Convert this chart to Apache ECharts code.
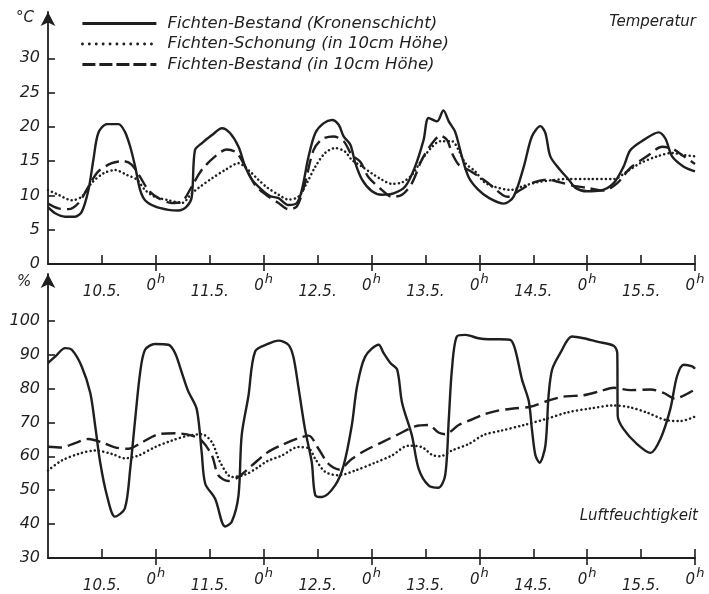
<!DOCTYPE html>
<html>
<head>
<meta charset="utf-8">
<script src="https://cdn.jsdelivr.net/npm/echarts@6/dist/echarts.min.js"></script>
<style>
  html, body { margin: 0; padding: 0; background: #fff; }
  #chart { width: 709px; height: 594px; }
</style>
</head>
<body>
<div id="chart"></div>
<script>
// Hours since 0h on 10 May, paired with readings.

// Series names
const seriesNames = [
  'Fichten-Bestand (Kronenschicht)',
  'Fichten-Schonung (in 10cm Höhe)',
  'Fichten-Bestand (in 10cm Höhe)'
];

// Temperature, °C
const tempCrown = [
  [0,8.3],[1.6,7.4],[3.8,6.9],[6,6.9],[7.5,7.6],[9,10.8],[10.1,15.2],[11.2,19.1],[13.1,20.4],[15.7,20.4],
  [17.1,19.3],[18.3,17.1],[19.4,14.2],[20.5,10.8],[21.6,9.3],[23.8,8.4],[26.8,7.9],[29,7.8],[30.9,8.4],[32,9.8],
  [32.7,16.6],[34.2,17.6],[36.5,18.8],[38.7,19.8],[40.5,19.1],[42.4,17.1],[43.9,14.2],[45.4,12.3],[47.6,10.8],[49.4,9.9],
  [51.3,9.6],[53.5,8.6],[55.4,8.9],[56.5,10.8],[58,15.7],[59.5,19.1],[61.3,20.5],[63.2,21.0],[64.7,20.3],[65.8,18.6],
  [67.3,17.4],[68.4,14.7],[69.9,12.3],[72.1,10.6],[74.3,10.1],[76.9,10.3],[79.5,11.3],[81.7,14.2],[83.6,18.1],[84.7,21.3],
  [86.6,20.8],[88,22.4],[89.2,20.8],[90.6,19.3],[92.1,15.7],[93.6,12.7],[95.8,10.8],[98.2,9.6],[101.4,8.8],[103.6,9.8],
  [105.9,14.2],[107.7,18.6],[109.6,20.1],[110.7,19.1],[111.8,15.7],[114,13.7],[115.9,12.3],[117.4,11.1],[120,10.6],[122.9,10.7],
  [125.9,11.8],[128.1,14.2],[129.6,16.6],[132.6,18.1],[135.9,19.2],[137.4,18.3],[138.9,15.7],[141.5,14.2],[144,13.5]
];
const tempPlantation = [
  [0,10.8],[2.3,10.1],[5.3,9.3],[7.5,9.8],[9.7,11.8],[12.3,13.2],[14.9,13.7],[17.5,13.0],[19.8,12.3],[21.6,10.8],
  [23.8,9.8],[26.8,9.3],[29.8,8.9],[32,10.3],[33.5,11.1],[36.5,12.5],[39.4,13.7],[42.4,14.7],[44.6,13.7],[46.8,12.3],
  [48.7,11.2],[51.3,10.1],[53.5,9.4],[55.7,9.8],[57.6,11.8],[59.5,14.2],[61.7,16.2],[63.9,16.9],[66.1,16.4],[67.6,15.2],
  [69.9,14.2],[72.1,13.2],[74.3,12.3],[76.5,11.7],[78.8,11.9],[81,13.0],[83.2,15.2],[85.5,17.1],[87.3,17.9],[89.9,17.9],
  [91.4,16.6],[92.9,14.7],[95.1,13.5],[97,12.0],[99.2,11.3],[102.9,10.8],[105.9,11.4],[108.8,11.9],[111.8,12.2],[115.5,12.4],
  [120.7,12.4],[125.9,12.4],[128.9,13.5],[131.8,14.7],[135.6,15.7],[138.9,16.2],[141.5,15.9],[144,15.7]
];
const tempForest10 = [
  [0,8.8],[2.3,8.1],[4.5,8.0],[6.8,8.9],[9,11.3],[11.2,13.5],[14.2,14.7],[16.8,15.0],[18.6,14.5],[20.5,12.7],
  [22.3,10.8],[24.6,9.6],[27.5,8.9],[29.8,9.1],[32,11.3],[34.2,13.7],[37.2,15.7],[39.8,16.7],[42,16.2],[43.9,14.2],
  [46.1,11.5],[48.5,10.1],[51.3,8.9],[53.5,8.0],[55.4,8.4],[57.2,11.8],[59.1,16.6],[61,18.2],[63.5,18.6],[65.8,17.9],
  [67.6,15.9],[69.5,14.9],[71.3,12.7],[74.3,10.8],[76.5,9.8],[78.8,10.1],[81,11.8],[83.2,15.2],[85.5,17.6],[87.3,18.7],
  [88.8,18.1],[89.9,16.2],[91.4,14.5],[93.6,13.7],[95.8,12.8],[98,11.8],[99.2,11.1],[102.2,9.8],[105.1,10.8],[108.1,11.9],
  [111.1,12.3],[114,11.9],[117,11.4],[120,11.1],[123.7,10.7],[126.7,11.8],[129.6,14.0],[133.3,15.7],[136.7,17.1],[139.3,16.7],
  [141.5,15.7],[144,14.6]
];

// Relative humidity, %
const humCrown = [
  [0,87.5],[1.6,89.4],[3.8,91.9],[5.3,91.4],[7.5,86.5],[9.4,78.7],[10.5,69.0],[11.6,58.3],[13.1,48.5],[14.9,42.2],
  [17.1,44.6],[18.3,56.3],[19.4,70.9],[20.5,84.6],[21.6,91.4],[23.8,93.1],[26.8,92.9],[28.3,90.4],[29.8,84.6],[31.2,79.2],
  [33.1,73.9],[34.2,61.2],[35,51.9],[37.2,47.5],[39.4,39.3],[40.9,40.7],[42.4,48.5],[43.1,66.1],[44.6,77.7],[46.1,90.9],
  [49.1,93.2],[51.3,94.1],[53.5,92.9],[54.6,89.4],[55.7,80.7],[57.2,68.0],[58.7,58.3],[59.5,48.5],[61,48.0],[63.9,51.4],
  [65.8,57.3],[67.6,69.0],[68.8,80.7],[70.6,89.4],[73.6,92.9],[74.7,90.4],[76.2,87.5],[77.7,85.6],[78.8,75.8],[81,66.1],
  [82.5,56.3],[84.7,51.4],[86.9,50.7],[88.4,54.4],[89.2,70.9],[89.9,85.6],[91,95.3],[92.9,95.8],[95.8,94.8],[98,94.5],
  [100.7,94.5],[102.9,94.3],[104,91.4],[105.5,82.6],[107,76.3],[107.7,68.0],[108.5,60.2],[109.4,58.1],[110.7,63.1],[111.4,77.7],
  [112.2,85.6],[114,90.4],[116.6,95.3],[119.2,94.8],[122.2,93.8],[125.9,92.6],[126.7,90.4],[126.8,71.9],[128.1,68.0],[131.1,63.6],
  [134.1,61.0],[136.3,65.1],[138.5,73.9],[140,83.6],[141.5,87.0],[143.4,86.5],[144,85.8]
];
const humPlantation = [
  [0,55.8],[3,58.7],[6.8,60.7],[10.5,61.7],[14.2,60.7],[17.1,59.4],[20.1,60.2],[23.8,62.7],[27.5,64.6],[31.2,66.1],
  [34.2,66.5],[36.5,64.1],[38.3,58.3],[40.9,53.9],[43.9,54.6],[46.8,56.8],[48.7,58.5],[52,60.2],[55.7,62.7],[58,62.4],
  [59.5,59.2],[61.7,55.4],[64.7,54.4],[68.4,55.8],[72.8,58.1],[76.5,60.2],[80.2,63.1],[83.2,62.7],[85.5,60.4],[87.3,60.0],
  [89.9,61.7],[93.6,63.6],[97,66.3],[100.7,67.5],[105.9,69.2],[111.1,71.1],[115.5,72.9],[120.7,74.1],[125.9,75.0],[129.6,74.4],
  [133.3,72.9],[137.8,70.6],[140.8,70.4],[144,71.7]
];
const humForest10 = [
  [0,62.8],[3,62.6],[6,63.9],[9,65.1],[12,64.1],[14.9,62.6],[17.9,62.2],[20.9,64.1],[24.6,66.5],[28.3,66.8],
  [32,66.1],[34.2,64.6],[36.5,60.2],[37.9,54.4],[40.2,52.7],[42.4,53.9],[45.4,57.3],[48.7,61.0],[52,63.3],[55.7,65.3],
  [58,66.1],[60.2,62.2],[62.4,57.8],[64.7,56.1],[67.6,59.2],[70.6,61.7],[74.3,64.1],[78,66.5],[81.7,68.8],[84.7,69.2],
  [86.9,67.0],[88.4,66.5],[91.4,69.2],[94.4,70.9],[97,72.3],[99.9,73.4],[103.6,74.1],[107.3,74.6],[111.1,76.3],[114.8,77.6],
  [119.2,78.0],[122.9,79.2],[125.9,80.2],[129.6,79.5],[134.1,79.7],[137,78.7],[139.6,77.0],[141.9,78.2],[144,79.7]
];

// Axis ticks and labels
const noonHours = [12, 36, 60, 84, 108, 132];
const dayLabels = ['10.5.', '11.5.', '12.5.', '13.5.', '14.5.', '15.5.'];
const midnightHours = [24, 48, 72, 96, 120, 144];
const tempTicks = [0, 5, 10, 15, 20, 25, 30];
const humTicks = [30, 40, 50, 60, 70, 80, 90, 100];

const INK = '#1f1f1f';
const FONT = 'DejaVu Sans';

function dayAxis(gridIndex) {
  return {
    type: 'value', gridIndex, position: 'bottom', min: 0, max: 144, interval: 12,
    axisLine: { show: true, lineStyle: { color: INK, width: 1.8 } },
    splitLine: { show: false },
    axisTick: { show: true, inside: true, length: 9, customValues: noonHours.concat(midnightHours),
      lineStyle: { color: INK, width: 1.6 } },
    axisLabel: {
      customValues: noonHours, margin: 21,
      fontFamily: FONT, fontStyle: 'italic', fontSize: 15, color: INK,
      formatter: v => dayLabels[noonHours.indexOf(v)] || ''
    }
  };
}
function midnightAxis(gridIndex) {
  return {
    type: 'value', gridIndex, position: 'bottom', offset: 0, min: 0, max: 144, interval: 12,
    axisLine: { show: false },
    splitLine: { show: false },
    axisTick: { show: true, inside: false, length: 7, customValues: midnightHours,
      lineStyle: { color: INK, width: 1.6 } },
    axisLabel: {
      customValues: midnightHours, margin: 6,
      formatter: () => '{b|0}{s|h}',
      rich: {
        b: { fontFamily: FONT, fontStyle: 'italic', fontSize: 15, color: INK, lineHeight: 20, padding: [12, 0, 0, 0] },
        s: { fontFamily: FONT, fontStyle: 'italic', fontSize: 13, color: INK, lineHeight: 20, padding: [0, 0, 0, 1] }
      }
    }
  };
}
function valueAxis(gridIndex, min, max, ticks) {
  return {
    type: 'value', gridIndex, min, max,
    axisLine: { show: true, lineStyle: { color: INK, width: 1.8 },
      symbol: ['none', 'arrow'], symbolSize: [11, 14] },
    splitLine: { show: false },
    axisTick: { show: true, inside: true, length: 7, customValues: ticks,
      lineStyle: { color: INK, width: 1.6 } },
    axisLabel: { customValues: ticks, margin: 8,
      fontFamily: FONT, fontStyle: 'italic', fontSize: 16, color: INK }
  };
}

const solid = { color: INK, width: 2.4, type: 'solid' };
const dotted = { color: INK, width: 2.5, type: [0.1, 4.2], cap: 'round' };
const dashed = { color: INK, width: 2.4, type: [14, 6] };

function line(name, data, axisIndex, style) {
  return {
    name, type: 'line', data,
    xAxisIndex: axisIndex, yAxisIndex: axisIndex === 0 ? 0 : 1,
    showSymbol: false, symbol: 'none', smooth: 0.3,
    lineStyle: style, itemStyle: { color: INK },
    animation: false, silent: true
  };
}

// Legend keys drawn with heavier strokes than the plot lines
const legendStyles = [
  { color: INK, width: 2.8, type: 'solid' },
  { color: INK, width: 2.8, type: [0.1, 6.8], cap: 'round' },
  { color: INK, width: 2.8, type: [13, 4] }
];

const chart = echarts.init(document.getElementById('chart'), null, { renderer: 'canvas' });
chart.setOption({
  backgroundColor: '#fff',
  animation: false,
  grid: [
    { left: 48, right: 14, top: 12, height: 252 },
    { left: 48, right: 14, top: 274, height: 286 }
  ],
  xAxis: [dayAxis(0), dayAxis(1), midnightAxis(0), midnightAxis(1)],
  yAxis: [valueAxis(0, 0, 36.75, tempTicks), valueAxis(1, 30, 113.75, humTicks)],
  legend: {
    orient: 'vertical', left: 81, top: 15, padding: 0,
    itemWidth: 74, itemHeight: 16, itemGap: 3.5,
    data: seriesNames.map((name, i) => ({ name, itemStyle: { opacity: 0 }, lineStyle: legendStyles[i] })),
    itemStyle: { opacity: 0 },
    textStyle: { fontFamily: FONT, fontStyle: 'italic', fontSize: 16.5, color: INK, padding: [0, 0, 0, 6] }
  },
  title: [
    { text: 'Temperatur', right: 13, top: 15, padding: 0,
      textStyle: { fontFamily: FONT, fontStyle: 'italic', fontWeight: 'normal', fontSize: 15, color: INK } },
    { text: 'Luftfeuchtigkeit', right: 11, top: 509, padding: 0,
      textStyle: { fontFamily: FONT, fontStyle: 'italic', fontWeight: 'normal', fontSize: 15, color: INK } }
  ],
  graphic: [
    { type: 'text', left: 16, top: 11, style: { text: '°C', font: 'italic 15px "DejaVu Sans"', fill: INK } },
    { type: 'text', left: 17, top: 275, style: { text: '%', font: 'italic 15px "DejaVu Sans"', fill: INK } }
  ],
  series: [
    line(seriesNames[0], tempCrown, 0, solid),
    line(seriesNames[1], tempPlantation, 0, dotted),
    line(seriesNames[2], tempForest10, 0, dashed),
    line(seriesNames[0], humCrown, 1, solid),
    line(seriesNames[1], humPlantation, 1, dotted),
    line(seriesNames[2], humForest10, 1, dashed)
  ]
});
</script>
</body>
</html>
